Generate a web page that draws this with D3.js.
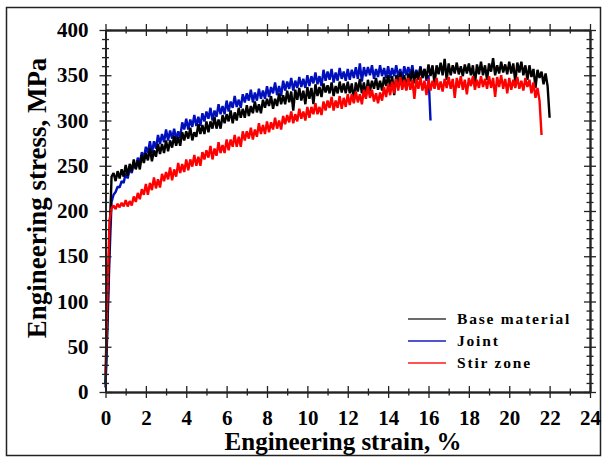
<!DOCTYPE html>
<html>
<head>
<meta charset="utf-8">
<script src="https://cdn.jsdelivr.net/npm/d3@7"></script>
<style>
  html, body { margin: 0; padding: 0; background: #fff; }
  svg { display: block; }
  text { font-family: "Liberation Serif", "Times New Roman", serif; font-weight: bold; fill: #000; }
</style>
</head>
<body>
<svg id="chart" width="606" height="462"></svg>
<script>
// ---------- DATA ----------
const strain = [
  0.0,0.1,0.2,0.3,0.4,0.5,0.6,0.7,0.8,0.9,
  1.0,1.1,1.2,1.3,1.4,1.5,1.6,1.7,1.8,1.9,
  2.0,2.1,2.2,2.3,2.4,2.5,2.6,2.7,2.8,2.9,
  3.0,3.1,3.2,3.3,3.4,3.5,3.6,3.7,3.8,3.9,
  4.0,4.1,4.2,4.3,4.4,4.5,4.6,4.7,4.8,4.9,
  5.0,5.1,5.2,5.3,5.4,5.5,5.6,5.7,5.8,5.9,
  6.0,6.1,6.2,6.3,6.4,6.5,6.6,6.7,6.8,6.9,
  7.0,7.1,7.2,7.3,7.4,7.5,7.6,7.7,7.8,7.9,
  8.0,8.1,8.2,8.3,8.4,8.5,8.6,8.7,8.8,8.9,
  9.0,9.1,9.2,9.3,9.4,9.5,9.6,9.7,9.8,9.9,
  10.0,10.1,10.2,10.3,10.4,10.5,10.6,10.7,10.8,10.9,
  11.0,11.1,11.2,11.3,11.4,11.5,11.6,11.7,11.8,11.9,
  12.0,12.1,12.2,12.3,12.4,12.5,12.6,12.7,12.8,12.9,
  13.0,13.1,13.2,13.3,13.4,13.5,13.6,13.7,13.8,13.9,
  14.0,14.1,14.2,14.3,14.4,14.5,14.6,14.7,14.8,14.9,
  15.0,15.1,15.2,15.3,15.4,15.5,15.6,15.7,15.8,15.9,
  16.0,16.1,16.2,16.3,16.4,16.5,16.6,16.7,16.8,16.9,
  17.0,17.1,17.2,17.3,17.4,17.5,17.6,17.7,17.8,17.9,
  18.0,18.1,18.2,18.3,18.4,18.5,18.6,18.7,18.8,18.9,
  19.0,19.1,19.2,19.3,19.4,19.5,19.6,19.7,19.8,19.9,
  20.0,20.1,20.2,20.3,20.4,20.5,20.6,20.7,20.8,20.9,
  21.0,21.1,21.2,21.3,21.4,21.5,21.6,21.7,21.8,21.9,
  22.0
];

// Base material stress (MPa), strain 0.0 .. 22.0
const baseStress = [
  10,85,170,238,242,233,244,236,246,238,
  251,239,252,244,257,246,256,246,262,253,
  264,256,269,255,267,260,274,263,274,264,
  278,266,278,270,283,272,282,272,287,278,
  288,280,292,278,287,282,296,285,295,285,
  299,287,299,291,304,291,301,291,306,297,
  307,299,311,297,309,300,314,303,313,303,
  317,305,316,308,321,309,318,308,323,314,
  324,316,327,313,324,316,330,318,328,318,
  333,320,332,311,334,323,336,322,333,318,
  337,324,336,318,340,327,337,326,341,331,
  339,330,342,327,338,330,343,331,341,330,
  343,330,341,321,342,332,346,330,342,327,
  345,332,344,335,347,334,344,333,348,338,
  350,337,349,328,350,340,353,338,350,334,
  352,343,356,341,354,345,359,347,357,346,
  362,349,361,340,361,351,364,350,368,345,
  363,350,361,352,364,351,360,349,362,352,
  363,350,361,340,362,351,365,350,361,345,
  363,354,369,350,361,352,365,353,362,351,
  365,352,363,342,364,353,365,350,361,345,
  361,348,357,336,356,347,354,340,352,338,
  303
];

// Joint stress (MPa), strain 0.0 .. 16.1
const jointStress = [
  5,75,150,210,218,221,227,226,233,231,
  242,236,248,242,253,247,259,253,265,258,
  271,264,277,264,277,269,284,274,285,276,
  290,278,289,280,291,279,288,281,298,290,
  302,290,301,293,306,294,304,294,308,299,
  310,302,314,300,311,304,318,307,316,307,
  322,310,321,314,327,315,323,314,329,320,
  330,322,334,320,331,322,335,324,333,324,
  338,326,337,330,342,328,338,327,344,333,
  343,335,347,333,344,336,348,337,346,336,
  350,338,349,341,353,340,349,338,356,344,
  354,345,357,342,353,344,358,346,354,344,
  357,345,356,347,359,346,363,343,359,349,
  359,350,361,346,357,348,361,349,358,347,
  360,347,358,349,361,348,357,346,360,350,
  359,350,361,346,356,347,360,347,357,344,
  350,300
];

// Stir zone stress (MPa), strain 0.0 .. 21.6
const stirStress = [
  20,110,190,203,206,202,208,204,209,205,
  212,205,211,206,216,210,220,213,224,218,
  230,218,231,223,237,225,235,226,241,233,
  243,235,248,234,246,238,253,242,252,243,
  257,245,257,249,262,250,260,250,265,257,
  267,259,272,257,269,261,276,264,273,264,
  279,267,279,271,284,271,282,271,288,278,
  288,280,292,279,290,282,297,285,295,285,
  299,287,298,290,303,291,300,290,305,296,
  306,298,310,297,307,299,313,302,310,300,
  315,303,315,307,319,307,315,306,321,311,
  322,314,326,311,322,314,327,313,325,315,
  329,317,329,319,332,320,329,318,334,324,
  338,325,334,321,330,319,331,322,337,326,
  340,328,343,330,346,333,348,334,345,333,
  347,334,345,324,346,335,348,333,344,328,
  346,333,344,335,347,334,343,332,346,336,
  348,335,346,325,347,336,349,334,345,329,
  347,338,349,334,345,336,349,337,346,335,
  349,336,347,326,348,337,350,335,346,330,
  347,334,345,336,348,335,344,333,347,337,
  345,330,342,325,336,322,284
];

const seriesNames = ["Base material", "Joint", "Stir zone"];
const xMajorTicks = [0,2,4,6,8,10,12,14,16,18,20,22,24];
const xMinorTicks = [1,3,5,7,9,11,13,15,17,19,21,23];
const yMajorTicks = [0,50,100,150,200,250,300,350,400];
const yMinorTicks = [10,20,30,40,60,70,80,90,110,120,130,140,160,170,180,190,
                     210,220,230,240,260,270,280,290,310,320,330,340,360,370,380,390];
const xTitle = "Engineering strain, %";
const yTitle = "Engineering stress, MPa";

// ---------- CHART ----------
const svg = d3.select("#chart");
const L = 105.5, R = 590, T = 30, B = 392;
const x = d3.scaleLinear().domain([0, 24]).range([L, R]);
const y = d3.scaleLinear().domain([0, 400]).range([B, T]);

// outer frame
svg.append("rect").attr("x", 6.5).attr("y", 7.5).attr("width", 594).attr("height", 448)
  .attr("fill", "none").attr("stroke", "#222").attr("stroke-width", 1.5);

// curves
const colors = { base: "#000000", joint: "#0010bc", stir: "#ff0000" };
const mk = arr => arr.map((v, i) => [strain[i], v]);
const line = d3.line().x(d => x(d[0])).y(d => y(d[1]));
const series = [
  { data: mk(jointStress), color: colors.joint },
  { data: mk(baseStress), color: colors.base },
  { data: mk(stirStress), color: colors.stir }
];
svg.append("g").selectAll("path").data(series).join("path")
  .attr("d", d => line(d.data))
  .attr("fill", "none")
  .attr("stroke", d => d.color)
  .attr("stroke-width", 2.4)
  .attr("stroke-linejoin", "bevel");

// axes with crossing ticks
function styleAxis(g) {
  g.select(".domain").attr("stroke", "#222").attr("stroke-width", 1.5);
  g.selectAll(".tick line").attr("stroke", "#222").attr("stroke-width", 1.3);
}
function noLabels(g) { g.selectAll("text").remove(); }

const axes = svg.append("g");
[[d3.axisBottom, B], [d3.axisTop, B], [d3.axisTop, T], [d3.axisBottom, T]].forEach(([fn, pos], k) => {
  axes.append("g").attr("transform", `translate(0,${pos})`)
    .call(fn(x).tickValues(xMajorTicks).tickSize(6).tickSizeOuter(0).tickFormat(d3.format("d")).tickPadding(12))
    .call(styleAxis).call(g => { if (k !== 0) noLabels(g); });
  axes.append("g").attr("transform", `translate(0,${pos})`)
    .call(fn(x).tickValues(xMinorTicks).tickSize(3.5).tickSizeOuter(0))
    .call(styleAxis).call(noLabels);
});
[[d3.axisLeft, L], [d3.axisRight, L], [d3.axisRight, R], [d3.axisLeft, R]].forEach(([fn, pos], k) => {
  axes.append("g").attr("transform", `translate(${pos},0)`)
    .call(fn(y).tickValues(yMajorTicks).tickSize(6).tickSizeOuter(0).tickFormat(d3.format("d")).tickPadding(11))
    .call(styleAxis).call(g => { if (k !== 0) noLabels(g); });
  axes.append("g").attr("transform", `translate(${pos},0)`)
    .call(fn(y).tickValues(yMinorTicks).tickSize(3.5).tickSizeOuter(0))
    .call(styleAxis).call(noLabels);
});
axes.selectAll(".tick text")
  .style("font-family", "'Liberation Serif', serif")
  .style("font-weight", "bold")
  .style("font-size", "21px")
  .attr("fill", "#000");

// axis titles
svg.append("text").attr("x", 343).attr("y", 450)
  .attr("text-anchor", "middle").style("font-size", "25px")
  .text(xTitle);
svg.append("text").attr("transform", "translate(46,198) rotate(-90)")
  .attr("text-anchor", "middle").style("font-size", "27px")
  .text(yTitle);

// legend
const legend = svg.append("g");
const legColors = ["#3a3a3a", "#1a1ac8", "#ff1a1a"];
seriesNames.forEach((name, i) => {
  const ly = 319 + i * 22;
  legend.append("line").attr("x1", 408).attr("x2", 446).attr("y1", ly).attr("y2", ly)
    .attr("stroke", legColors[i]).attr("stroke-width", 1.3);
  legend.append("text").attr("x", 457).attr("y", ly + 5)
    .style("font-size", "15.5px").style("letter-spacing", "1.8px")
    .text(name);
});
</script>
</body>
</html>
